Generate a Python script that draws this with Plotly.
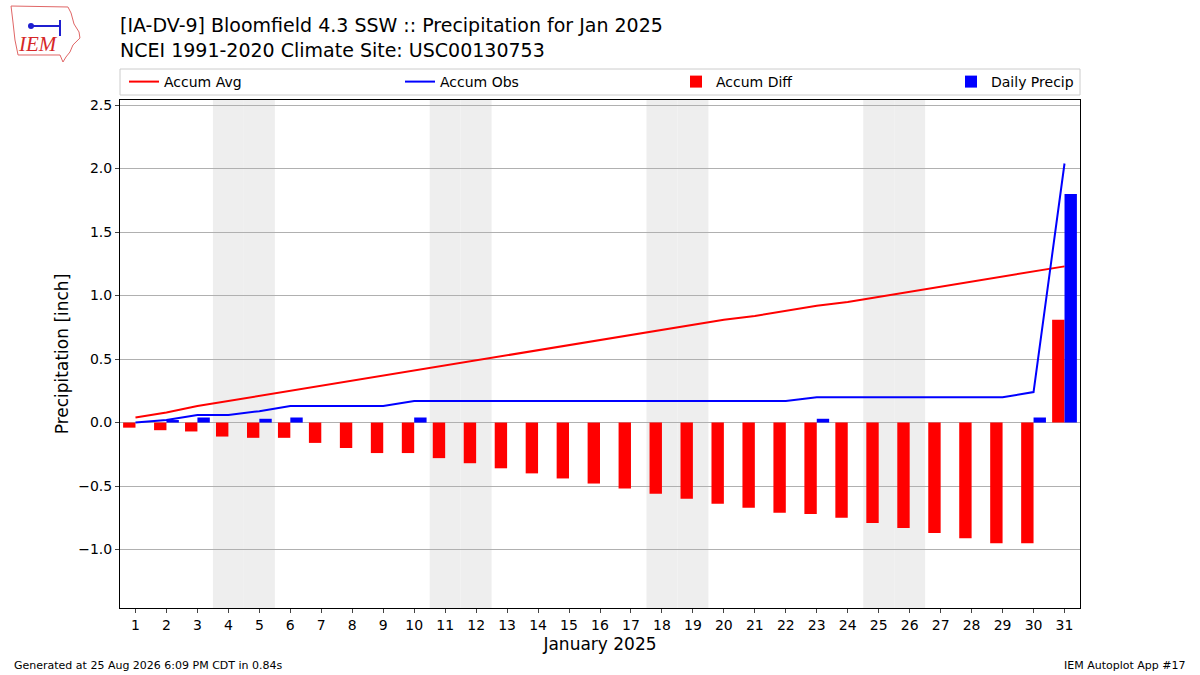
import pandas as pd
import plotly.graph_objects as go

# --- data (inch) ---
days = list(range(1, 32))
daily_precip = [0.00, 0.02, 0.04, 0.00, 0.03, 0.04, 0.00, 0.00, 0.00, 0.04,
                0.00, 0.00, 0.00, 0.00, 0.00, 0.00, 0.00, 0.00, 0.00, 0.00,
                0.00, 0.00, 0.03, 0.00, 0.00, 0.00, 0.00, 0.00, 0.00, 0.04,
                1.80]
accum_obs = [0.00, 0.02, 0.06, 0.06, 0.09, 0.13, 0.13, 0.13, 0.13, 0.17,
             0.17, 0.17, 0.17, 0.17, 0.17, 0.17, 0.17, 0.17, 0.17, 0.17,
             0.17, 0.17, 0.20, 0.20, 0.20, 0.20, 0.20, 0.20, 0.20, 0.24,
             2.04]
accum_avg = [0.04, 0.08, 0.13, 0.17, 0.21, 0.25, 0.29, 0.33, 0.37, 0.41,
             0.45, 0.49, 0.53, 0.57, 0.61, 0.65, 0.69, 0.73, 0.77, 0.81,
             0.84, 0.88, 0.92, 0.95, 0.99, 1.03, 1.07, 1.11, 1.15, 1.19,
             1.23]
accum_diff = [-0.04, -0.06, -0.07, -0.11, -0.12, -0.12, -0.16, -0.20, -0.24, -0.24,
              -0.28, -0.32, -0.36, -0.40, -0.44, -0.48, -0.52, -0.56, -0.60, -0.64,
              -0.67, -0.71, -0.72, -0.75, -0.79, -0.83, -0.87, -0.91, -0.95, -0.95,
              0.81]

title = ("[IA-DV-9] Bloomfield 4.3 SSW :: Precipitation for Jan 2025<br>"
         "NCEI 1991-2020 Climate Site: USC00130753")
font = "DejaVu Sans"

W, H = 1200, 675
L, R, T, B = 120, 120, 100, 67


def px(x, y):
    # page pixels -> paper coords (for the logo / decorations only)
    return (x - L) / (W - L - R), (H - B - y) / (H - T - B)


fig = go.Figure()

fig.add_trace(go.Bar(x=days, y=accum_diff, name="Accum Diff", marker_color="red",
                     marker_line_width=0, width=0.4, offset=-0.4, legend="legend3"))
fig.add_trace(go.Bar(x=days, y=daily_precip, name="Daily Precip", marker_color="blue",
                     marker_line_width=0, width=0.4, offset=0, legend="legend4"))
fig.add_trace(go.Scatter(x=days, y=accum_avg, name="Accum Avg", mode="lines",
                         line=dict(color="red", width=2), legend="legend"))
fig.add_trace(go.Scatter(x=days, y=accum_obs, name="Accum Obs", mode="lines",
                         line=dict(color="blue", width=2), legend="legend2"))

# weekend shading
dates = pd.date_range("2025-01-01", "2025-01-31")
for d in dates:
    if d.weekday() >= 5:
        fig.add_shape(type="rect", xref="x", yref="paper", x0=d.day - 0.5, x1=d.day + 0.5,
                      y0=0, y1=1, fillcolor="#eeeeee", line_width=0, layer="below")

# legend frame
x0, y0 = px(120, 95)
x1, y1 = px(1080, 69)
fig.add_shape(type="rect", xref="paper", yref="paper", x0=x0, x1=x1, y0=y0, y1=y1,
              line=dict(color="#cccccc", width=1), fillcolor="rgba(0,0,0,0)")

# rough IEM logo
outline = [(11, 6), (68, 7), (71, 13), (74, 24), (79, 32), (80, 38), (73, 45),
           (70, 52), (66, 57), (63, 62), (60, 55), (18, 55), (15, 40), (13, 22)]
pts = [px(a, b) for a, b in outline]
path = "M " + " L ".join(f"{a:.4f},{b:.4f}" for a, b in pts) + " Z"
fig.add_shape(type="path", path=path, xref="paper", yref="paper",
              line=dict(color="#e06666", width=1))
bx0, by0 = px(31, 26)
bx1, by1 = px(60, 26)
fig.add_shape(type="line", xref="paper", yref="paper", x0=bx0, y0=by0, x1=bx1, y1=by1,
              line=dict(color="#1f1fd0", width=2))
vx, vy0 = px(60, 20)
_, vy1 = px(60, 36)
fig.add_shape(type="line", xref="paper", yref="paper", x0=vx, y0=vy0, x1=vx, y1=vy1,
              line=dict(color="#1f1fd0", width=2))
cx0, cy0 = px(28, 23)
cx1, cy1 = px(34, 29)
fig.add_shape(type="circle", xref="paper", yref="paper", x0=cx0, y0=cy0, x1=cx1, y1=cy1,
              fillcolor="#1f1fd0", line_width=0)
ix, iy = px(38, 44)
fig.add_annotation(text="<i>IEM</i>", xref="paper", yref="paper", x=ix, y=iy,
                   xanchor="center", yanchor="middle", showarrow=False,
                   font=dict(family="Liberation Serif", size=21, color="#d62728"))

fx, fy = px(12, 665)
fig.add_annotation(text="Generated at 25 Aug 2026 6:09 PM CDT in 0.84s", xref="paper", yref="paper",
                   x=fx, y=fy, xanchor="left", yanchor="middle", showarrow=False,
                   font=dict(family=font, size=11, color="black"))
fx, fy = px(1188, 665)
fig.add_annotation(text="IEM Autoplot App #17", xref="paper", yref="paper",
                   x=fx, y=fy, xanchor="right", yanchor="middle", showarrow=False,
                   font=dict(family=font, size=11, color="black"))

# one legend per entry, spread across the frame like matplotlib's expand mode
_, ly = px(0, 82)
legend_common = dict(orientation="h", y=ly, yanchor="middle", xanchor="left",
                     bgcolor="rgba(0,0,0,0)", borderwidth=0, font=dict(size=14))
legend_x = [px(v, 0)[0] for v in (124, 400, 676, 951)]

fig.update_layout(
    width=W, height=H,
    paper_bgcolor="white", plot_bgcolor="white",
    font=dict(family=font, size=14, color="black"),
    margin=dict(l=L, r=R, t=T, b=B),
    barmode="overlay",
    title=dict(text=title, x=L / W, xanchor="left", y=0.952, yanchor="top",
               font=dict(size=19)),
    legend=dict(x=legend_x[0], **legend_common),
    legend2=dict(x=legend_x[1], **legend_common),
    legend3=dict(x=legend_x[2], **legend_common),
    legend4=dict(x=legend_x[3], **legend_common),
    showlegend=True,
)

fig.update_xaxes(range=[0.5, 31.5], tickmode="array", tickvals=days, ticks="outside",
                 ticklen=4, showgrid=False, showline=True, linecolor="black", mirror=True,
                 title=dict(text="January 2025", font=dict(size=17), standoff=6),
                 tickfont=dict(size=14))
fig.update_yaxes(range=[-1.46, 2.54], dtick=0.5, tickformat=".1f", ticks="outside",
                 ticklen=4, showgrid=True, gridcolor="#b0b0b0", gridwidth=1,
                 zeroline=False, showline=True, linecolor="black", mirror=True,
                 title=dict(text="Precipitation [inch]", font=dict(size=17), standoff=5),
                 tickfont=dict(size=14))

fig.write_html("out.html", config={"displayModeBar": False},
               post_script="document.body.style.margin='0';")
